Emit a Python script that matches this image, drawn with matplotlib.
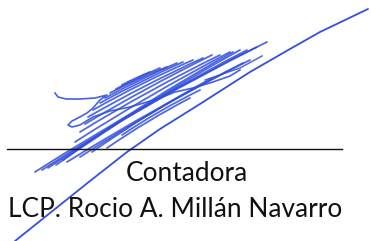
import numpy as np
import matplotlib.pyplot as plt
from matplotlib.path import Path
from matplotlib.patches import PathPatch

W, H = 371, 241

title_text = "Contadora"
name_text = "LCP. Rocio A. Millán Navarro"

# signature strokes, image pixel coords (x right, y down)
# hatch strokes: start (lower left) -> end (upper right)
hatch_x0 = [35, 42, 48, 56, 63, 67, 80, 92, 107, 122, 75, 80, 85, 88, 93, 100, 105, 110, 116, 122]
hatch_y0 = [172, 170, 168, 165, 160, 162, 157, 152, 148, 135, 142, 132, 124, 117, 110, 103, 98, 93, 89, 85]
hatch_x1 = [267, 257, 247, 240, 233, 250, 243, 212, 190, 200, 230, 220, 212, 203, 193, 183, 177, 167, 160, 150]
hatch_y1 = [42, 47, 50, 50, 52, 60, 63, 78, 98, 90, 52, 55, 55, 58, 60, 62, 63, 67, 68, 72]
hatch_bow = [8, 7, 7, 6, 6, 5, 5, 4, 3, 3, 4, 4, 3, 3, 3, 2, 2, 2, 1, 1]

long_x = [15, 50, 90, 127, 160, 200, 250, 290, 320, 368]
long_y = [241, 213, 181, 152, 129, 104, 72, 49, 32, 9]

squig_x = [55, 58, 66, 80, 95, 107, 100, 93, 87, 78, 72, 68, 72, 80, 93, 110, 130, 147, 160, 175, 193, 213, 230, 240]
squig_y = [93, 97, 99, 99, 98, 95, 100, 108, 113, 118, 121, 125, 127, 125, 117, 111, 107, 102, 98, 92, 88, 82, 76, 70]

vee_x = [205, 240, 262]
vee_y = [80, 68, 56]

ink = "#3350dc"

fig = plt.figure(figsize=(W / 100, H / 100), dpi=100)
ax = fig.add_axes([0, 0, 1, 1])
ax.set_xlim(0, W)
ax.set_ylim(H, 0)
ax.axis("off")

for x0, y0, x1, y1, b in zip(hatch_x0, hatch_y0, hatch_x1, hatch_y1, hatch_bow):
    dx, dy = x1 - x0, y1 - y0
    L = np.hypot(dx, dy)
    # bow toward upper left
    nx, ny = dy / L, -dx / L
    cx = (x0 + x1) / 2 + b * nx
    cy = (y0 + y1) / 2 + b * ny
    p = Path([(x0, y0), (cx, cy), (x1, y1)], [Path.MOVETO, Path.CURVE3, Path.CURVE3])
    ax.add_patch(PathPatch(p, fc="none", ec=ink, lw=1.3, alpha=0.85, capstyle="round"))

ax.plot(long_x, long_y, color=ink, lw=1.3, solid_capstyle="round")
ax.plot(squig_x, squig_y, color=ink, lw=1.2, alpha=0.9, solid_joinstyle="round")
ax.plot(vee_x, vee_y, color=ink, lw=1.1, alpha=0.85)

ax.plot([7, 342], [149, 149], color="#111111", lw=1.0)

fam = ["Lato", "DejaVu Sans"]
t2 = ax.text(8, 217, name_text, fontsize=16, family=fam, color="#111111", va="baseline", ha="left")
fig.canvas.draw()
w = t2.get_window_extent().width
fs = 16 * 334 / w
t2.set_fontsize(fs)
ax.text(187, 181, title_text, fontsize=fs, family=fam, color="#111111", va="baseline", ha="center")

fig.savefig("out.png", dpi=100)
